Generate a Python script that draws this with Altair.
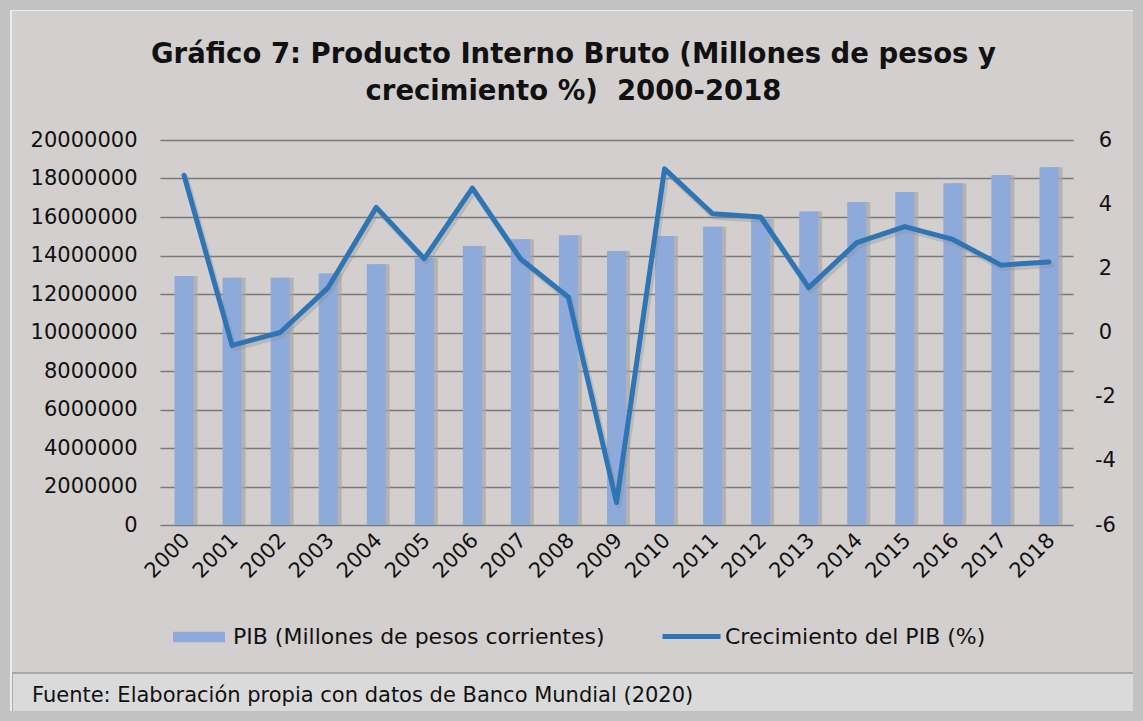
import altair as alt
import pandas as pd

years = ["2000", "2001", "2002", "2003", "2004", "2005", "2006", "2007", "2008", "2009",
         "2010", "2011", "2012", "2013", "2014", "2015", "2016", "2017", "2018"]
pib = [12940000, 12850000, 12850000, 13070000, 13540000, 13870000, 14490000, 14840000,
       15050000, 14230000, 15010000, 15500000, 15900000, 16280000, 16780000, 17300000,
       17750000, 18180000, 18580000]
growth = [4.9, -0.4, 0.0, 1.4, 3.9, 2.3, 4.5, 2.3, 1.1, -5.3, 5.1, 3.7, 3.6, 1.4, 2.8,
          3.3, 2.9, 2.1, 2.2]
left_ticks = [0, 2000000, 4000000, 6000000, 8000000, 10000000, 12000000, 14000000,
              16000000, 18000000, 20000000]
right_ticks = [-6, -4, -2, 0, 2, 4, 6]

pib_label = "PIB (Millones de pesos corrientes)"
growth_label = "Crecimiento del PIB (%)"
title_lines = ["Gráfico 7: Producto Interno Bruto (Millones de pesos y",
               "crecimiento %)\u00a0 2000-2018"]
footer_text = "Fuente: Elaboración propia con datos de Banco Mundial (2020)"

FONT = "DejaVu Sans"
TXT = "#111111"

df = pd.DataFrame({"year": years, "pib": pib, "growth": growth})
df["serie_pib"] = pib_label
df["serie_growth"] = growth_label
one = pd.DataFrame({"k": [0]})

W, H = 913, 385
PL, PT, PR, PB = 160, 140, 70, 196

x_enc = alt.X("year:O", title=None,
              scale=alt.Scale(paddingInner=0, paddingOuter=0),
              axis=alt.Axis(labelAngle=-45, domain=False, ticks=False, labelPadding=4,
                            labelOffset=-5,
                            labelFont=FONT, labelFontSize=21, labelColor=TXT, grid=False))

y_left = alt.Y("pib:Q", title=None,
               scale=alt.Scale(domain=[0, 20000000], nice=False, zero=True),
               axis=alt.Axis(values=left_ticks, format="d", domain=False, ticks=False,
                             labelPadding=23, labelFont=FONT, labelFontSize=21,
                             labelColor=TXT, grid=True, gridColor="#7a7a7a",
                             gridWidth=1.5))

base = alt.Chart(df).encode(x=x_enc, y=y_left)
shadow = base.mark_bar(size=19, xOffset=4, color="#a8a5a5", opacity=0.7)
bars = base.mark_bar(size=19).encode(
    fill=alt.Fill("serie_pib:N",
                  scale=alt.Scale(domain=[pib_label], range=["#8eaadb"]),
                  legend=alt.Legend(title=None, orient="none", legendX=13, legendY=471,
                                    symbolType="M-1,-0.2H1V0.2H-1Z", symbolSize=2704,
                                    symbolStrokeWidth=0, labelFont=FONT,
                                    labelFontSize=22, labelColor=TXT, labelOffset=8,
                                    labelLimit=600))
)
bar_layer = alt.layer(shadow, bars)

line_shadow = alt.Chart(df).mark_line(strokeWidth=6, strokeJoin="round", strokeCap="round",
                                      color="#8f8c8c", opacity=0.35, xOffset=2, yOffset=3).encode(
    x=x_enc,
    y=alt.Y("growth:Q", title=None,
            scale=alt.Scale(domain=[-6, 6], nice=False, zero=False),
            axis=alt.Axis(orient="right", values=right_ticks, domain=False, ticks=False,
                          grid=False, labelAlign="center", labelPadding=32,
                          labelExpr="'' + datum.value",
                          labelFont=FONT, labelFontSize=21, labelColor=TXT)),
)
line = alt.Chart(df).mark_line(strokeWidth=5, strokeJoin="round", strokeCap="round").encode(
    x=x_enc,
    y=alt.Y("growth:Q", title=None,
            scale=alt.Scale(domain=[-6, 6], nice=False, zero=False),
            axis=alt.Axis(orient="right", values=right_ticks, domain=False, ticks=False,
                          grid=False, labelAlign="center", labelPadding=32,
                          labelExpr="'' + datum.value",
                          labelFont=FONT, labelFontSize=21, labelColor=TXT)),
    stroke=alt.Stroke("serie_growth:N",
                      scale=alt.Scale(domain=[growth_label], range=["#2e75b6"]),
                      legend=alt.Legend(title=None, orient="none", legendX=500, legendY=465,
                                        symbolType="stroke", symbolSize=3364,
                                        symbolStrokeWidth=5, labelFont=FONT,
                                        labelFontSize=22, labelColor=TXT, labelOffset=2,
                                        labelLimit=600))
)
line_layer = alt.layer(line_shadow, line)

# decorative frame and footer band
frame = alt.Chart(one).mark_rect(fillOpacity=0, stroke="#c2c2c2", strokeWidth=20).encode(
    x=alt.value(-PL), x2=alt.value(W + PR), y=alt.value(-PT), y2=alt.value(H + PB))
inner = alt.Chart(one).mark_rect(fillOpacity=0, stroke="#ededed", strokeWidth=2).encode(
    x=alt.value(-PL + 11), x2=alt.value(W + PR - 8), y=alt.value(-PT + 10),
    y2=alt.value(H + PB - 3))
footer_band = alt.Chart(one).mark_rect(fill="#dadada", stroke="#9a9a9a", strokeWidth=1.5).encode(
    x=alt.value(-PL + 12), x2=alt.value(W + PR - 8), y=alt.value(533), y2=alt.value(578))
footer = alt.Chart(one).mark_text(align="left", baseline="middle", font=FONT,
                                  fontSize=21, color=TXT).encode(
    x=alt.value(-128), y=alt.value(556), text=alt.value(footer_text))

chart = alt.layer(footer_band, footer, bar_layer, line_layer, inner, frame).resolve_scale(
    y="independent"
).properties(
    width=W, height=H,
    title=alt.TitleParams(text=title_lines, font=FONT, fontWeight="bold", fontSize=27.5,
                          color=TXT, anchor="middle", dx=-43, dy=137, offset=22,
                          lineHeight=37),
    autosize=alt.AutoSizeParams(type="none"),
    padding={"left": PL, "top": PT, "right": PR, "bottom": PB},
).configure(background="#d3cfcf").configure_view(stroke=None)

chart.save("out.html", embed_options={"renderer": "svg", "actions": False})
